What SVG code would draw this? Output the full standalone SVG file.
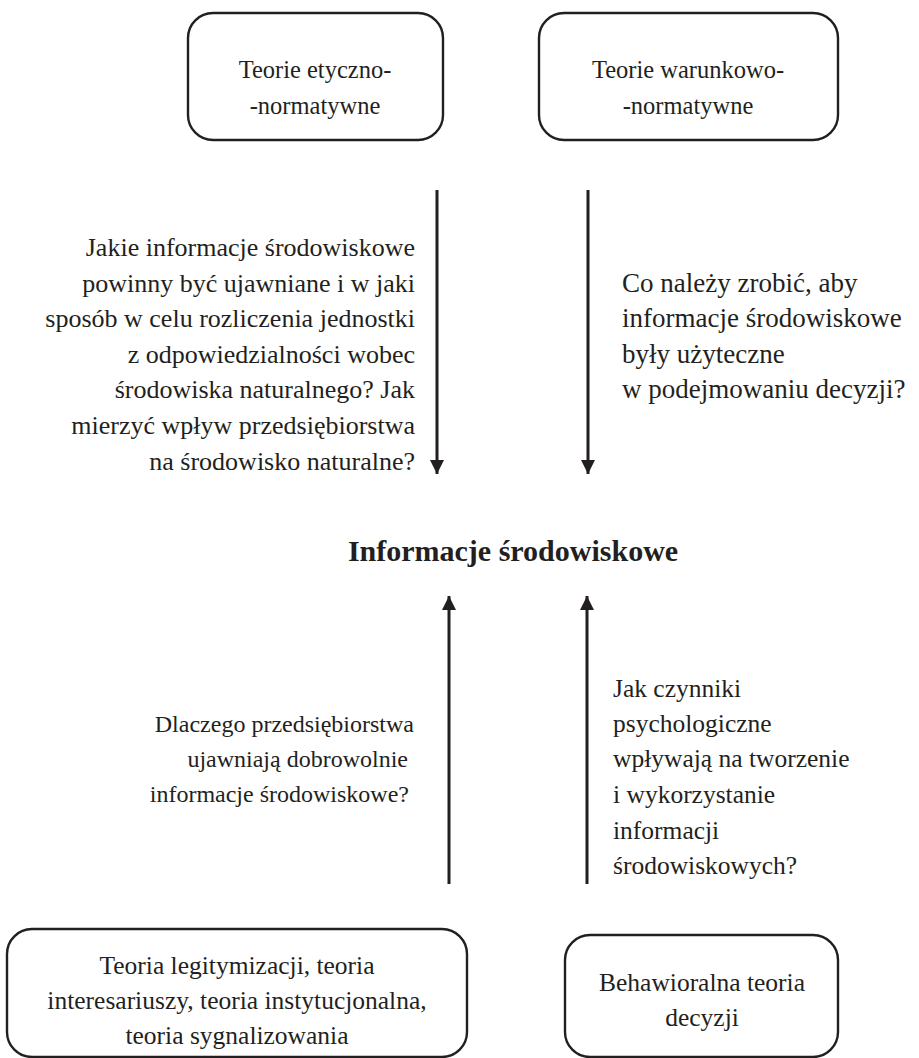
<svg xmlns="http://www.w3.org/2000/svg" width="919" height="1058" viewBox="0 0 919 1058">
  <style>
    .box { fill: #ffffff; stroke: #231f20; stroke-width: 2.4; }
    .t { font-family: "Liberation Serif", "Times New Roman", serif; fill: #231f20; }
    .top { font-size: 24.5px; }
    .qa { font-size: 26px; }
    .qb { font-size: 27px; }
    .qc { font-size: 24px; }
    .qd { font-size: 25.5px; }
    .bot { font-size: 25.5px; }
    .mid { text-anchor: middle; }
    .end { text-anchor: end; }
    .title { font-family: "Liberation Serif", "Times New Roman", serif; font-size: 30px; font-weight: bold; fill: #231f20; text-anchor: middle; }
    .conn line { stroke: #231f20; stroke-width: 3; }
  </style>
  <defs>
    <marker id="head" viewBox="0 0 14 14" refX="14" refY="7" markerWidth="14" markerHeight="14" markerUnits="userSpaceOnUse" orient="auto">
      <path d="M0,0 L14,7 L0,14 Z" fill="#231f20"/>
    </marker>
  </defs>
  <rect width="919" height="1058" fill="#ffffff"/>

  <!-- top theories -->
  <g id="etyczno">
    <rect class="box" x="188" y="13" width="255" height="127" rx="25"/>
    <text class="t top mid" x="315" y="78">Teorie etyczno-</text>
    <text class="t top mid" x="315" y="114">-normatywne</text>
  </g>
  <g id="warunkowo">
    <rect class="box" x="539" y="13" width="299" height="127" rx="25"/>
    <text class="t top mid" x="688" y="78">Teorie warunkowo-</text>
    <text class="t top mid" x="688" y="114">-normatywne</text>
  </g>

  <!-- questions on the top arrows -->
  <g id="q-etyczno">
    <text class="t qa end" x="415" y="256">Jakie informacje środowiskowe</text>
    <text class="t qa end" x="415" y="292">powinny być ujawniane i w jaki</text>
    <text class="t qa end" x="415" y="327">sposób w celu rozliczenia jednostki</text>
    <text class="t qa end" x="415" y="363">z odpowiedzialności wobec</text>
    <text class="t qa end" x="415" y="398">środowiska naturalnego? Jak</text>
    <text class="t qa end" x="415" y="434">mierzyć wpływ przedsiębiorstwa</text>
    <text class="t qa end" x="415" y="470">na środowisko naturalne?</text>
  </g>
  <g id="q-warunkowo">
    <text class="t qb" x="622" y="292">Co należy zrobić, aby</text>
    <text class="t qb" x="622" y="327">informacje środowiskowe</text>
    <text class="t qb" x="622" y="363">były użyteczne</text>
    <text class="t qb" x="622" y="398">w podejmowaniu decyzji?</text>
  </g>

  <!-- central node -->
  <g id="informacje">
    <text class="title" x="513" y="561">Informacje środowiskowe</text>
  </g>

  <!-- questions on the bottom arrows -->
  <g id="q-legitymizacja">
    <text class="t qc end" x="414" y="732">Dlaczego przedsiębiorstwa</text>
    <text class="t qc end" x="408" y="767">ujawniają dobrowolnie</text>
    <text class="t qc end" x="409" y="802">informacje środowiskowe?</text>
  </g>
  <g id="q-behawioralna">
    <text class="t qd" x="613" y="697">Jak czynniki</text>
    <text class="t qd" x="613" y="732">psychologiczne</text>
    <text class="t qd" x="613" y="767">wpływają na tworzenie</text>
    <text class="t qd" x="613" y="803">i wykorzystanie</text>
    <text class="t qd" x="613" y="839">informacji</text>
    <text class="t qd" x="613" y="874">środowiskowych?</text>
  </g>

  <!-- bottom theories -->
  <g id="legitymizacja">
    <rect class="box" x="7" y="929" width="460" height="128" rx="25"/>
    <text class="t bot mid" x="237" y="974">Teoria legitymizacji, teoria</text>
    <text class="t bot mid" x="237" y="1009">interesariuszy, teoria instytucjonalna,</text>
    <text class="t bot mid" x="237" y="1044">teoria sygnalizowania</text>
  </g>
  <g id="behawioralna">
    <rect class="box" x="565" y="935" width="273" height="122" rx="25"/>
    <text class="t bot mid" x="702" y="991">Behawioralna teoria</text>
    <text class="t bot mid" x="702" y="1026">decyzji</text>
  </g>

  <!-- connectors -->
  <g class="conn" id="connectors">
    <line x1="437" y1="190" x2="437" y2="474" marker-end="url(#head)"/>
    <line x1="588" y1="190" x2="588" y2="474" marker-end="url(#head)"/>
    <line x1="449" y1="884" x2="449" y2="596" marker-end="url(#head)"/>
    <line x1="587" y1="884" x2="587" y2="596" marker-end="url(#head)"/>
  </g>
</svg>
